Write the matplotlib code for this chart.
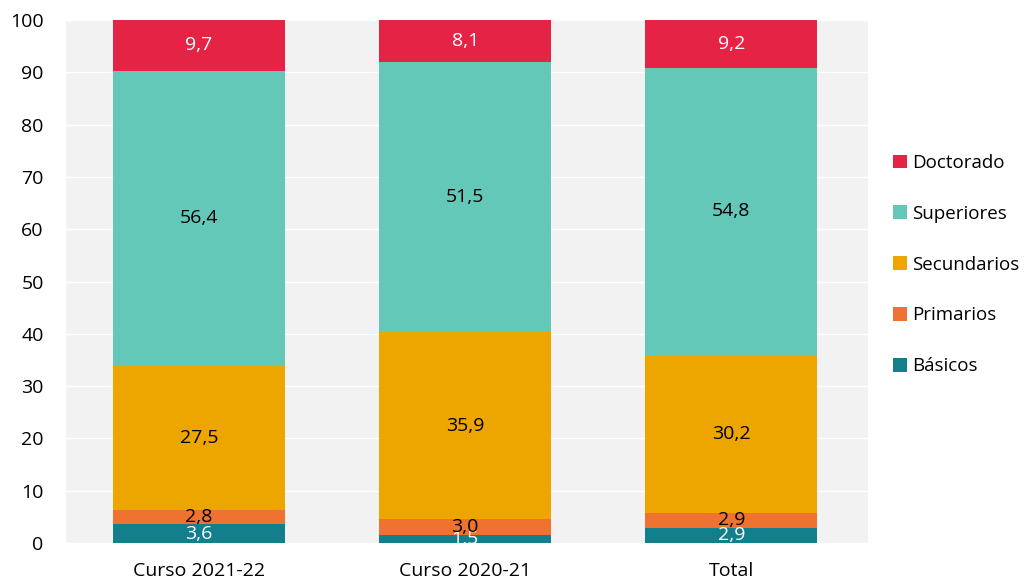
import numpy as np
import matplotlib.pyplot as plt

plt.rcParams['font.family'] = ['Open Sans', 'DejaVu Sans']

categorias = ['Curso 2021-22', 'Curso 2020-21', 'Total']
series = ['Básicos', 'Primarios', 'Secundarios', 'Superiores', 'Doctorado']
basicos = [3.6, 1.5, 2.9]
primarios = [2.8, 3.0, 2.9]
secundarios = [27.5, 35.9, 30.2]
superiores = [56.4, 51.5, 54.8]
doctorado = [9.7, 8.1, 9.2]

colores = ['#117f8c', '#f07230', '#eda500', '#64c8b8', '#e52345']
color_texto = ['white', 'black', 'black', 'black', 'white']

datos = [basicos, primarios, secundarios, superiores, doctorado]

fig = plt.figure(figsize=(10.29, 5.88), dpi=100)
ax = fig.add_axes([0.064, 0.0765, 0.78, 0.8895])
ax.set_facecolor('#f2f2f2')

x = np.arange(len(categorias))
base = np.zeros(len(categorias))
handles = []
for vals, nombre, col, tc in zip(datos, series, colores, color_texto):
    vals = np.array(vals)
    b = ax.bar(x, vals, 0.647, bottom=base, color=col, label=nombre, zorder=3)
    handles.append(b)
    for xi, v, b0 in zip(x, vals, base):
        ax.text(xi, b0 + v / 2, f'{v:.1f}'.replace('.', ','), ha='center', va='center',
                color=tc, fontsize=14, zorder=4)
    base += vals

ax.set_xlim(-0.5, 2.515)
ax.set_ylim(0, 100)
ax.set_yticks(range(0, 101, 10))
ax.set_xticks(x)
ax.set_xticklabels(categorias)
ax.yaxis.grid(True, color='white', linewidth=1, zorder=1)
ax.tick_params(length=0, labelsize=14)
ax.tick_params(axis='y', pad=16)
ax.tick_params(axis='x', pad=14)
for s in ax.spines.values():
    s.set_visible(False)

fig.legend(handles[::-1], series[::-1], loc='center left', bbox_to_anchor=(0.8565, 0.55),
           frameon=False, fontsize=13.5, labelspacing=1.75, handlelength=0.75,
           handleheight=0.75, handletextpad=0.3, borderaxespad=0.2)

fig.savefig('out.png', dpi=100)
